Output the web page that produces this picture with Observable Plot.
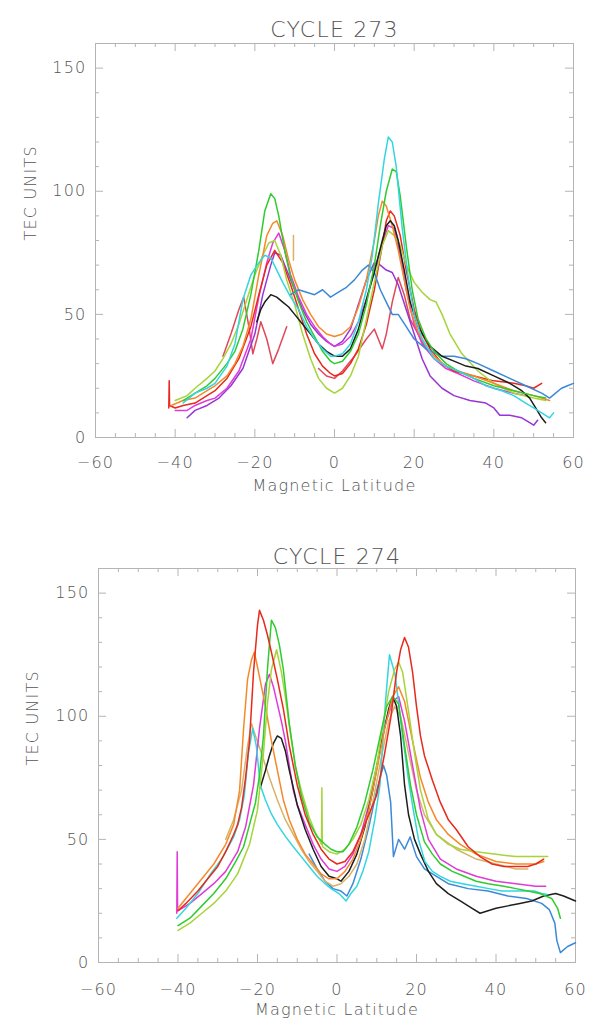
<!DOCTYPE html>
<html><head><meta charset="utf-8">
<script src="https://cdn.jsdelivr.net/npm/d3@7"></script>
<script src="https://cdn.jsdelivr.net/npm/@observablehq/plot@0.6"></script>
<style>
body{margin:0;background:#fff;}
#chart{width:590px;height:1026px;}
#chart svg{display:block;}
#chart text{letter-spacing:1.2px;}
</style></head><body><div id="chart"></div>
<script>
// ---------- axis ticks ----------
const xTicks = [-60, -40, -20, 0, 20, 40, 60];
const xMinor = [-55, -50, -45, -35, -30, -25, -15, -10, -5, 5, 10, 15, 25, 30, 35, 45, 50, 55];
const yTicks = [0, 50, 100, 150];
const yMinor = [10, 20, 30, 40, 60, 70, 80, 90, 110, 120, 130, 140];

// ---------- CYCLE 273 : [magnetic latitude, TEC] ----------
const c273_cyan = [[-38,14],[-35,18],[-32,20],[-30,22],[-27,29],[-25,38],[-23,56],[-21,66],[-19,71],[-17.5,74],[-16,73],[-14.5,68],[-13,63],[-11,57],[-9,52],[-7,45],[-5,40],[-3,36],[-1,33],[0,33],[2,34],[4,38],[6,47],[8,60],[9.5,74],[11,95],[12.5,113],[13.5,122],[14.5,120],[15.5,110],[17,85],[18.5,65],[20,50],[22,40],[25,32],[28,29],[31,27],[35,24],[38,21],[42,19],[45,17],[48,14],[50,12],[52,10],[54,8],[55,10]];
const c273_green = [[-38,15],[-35,18],[-32,21],[-30,24],[-27,30],[-25,35],[-23,44],[-21,58],[-19,76],[-17.5,92],[-16,99],[-15,97],[-14,90],[-12.5,76],[-11,65],[-9,55],[-7,47],[-5,41],[-3,35],[-1,31],[0,30],[2,31],[4,35],[6,42],[8,54],[10,70],[11.5,86],[13,100],[14.5,109],[15.5,108],[16.5,98],[18,78],[19.5,60],[21,48],[23,40],[25,35],[28,30],[31,27],[35,24],[40,21],[45,19],[50,17],[53,16]];
const c273_yellowgreen = [[-40,15],[-37,17],[-35,20],[-32,24],[-30,27],[-28,32],[-26,38],[-24,46],[-22,56],[-20,66],[-18,74],[-16.5,79],[-15,80],[-13.5,74],[-12,64],[-10,54],[-8,42],[-6,32],[-4,24],[-2,20],[0,18],[2,20],[4,25],[6,33],[8,48],[10,63],[12,78],[13.5,84],[15,82],[16.5,78],[18,70],[20,63],[22,59],[24,56],[25.5,55],[27,50],[29,42],[32,34],[36,27],[40,22],[45,18],[50,16],[53,15]];
const c273_tan = [[-10.3,72],[-10.3,82]];
const c273_orange = [[-41,13],[-38,15],[-35,16],[-32,19],[-30,21],[-27,25],[-25,30],[-23,37],[-21,48],[-19,66],[-17,82],[-15.5,87],[-14.5,88],[-13,82],[-11.5,72],[-10,64],[-8,56],[-6,50],[-4,45],[-2,42],[0,41],[2,42],[4,45],[6,53],[8,64],[10,80],[11,90],[12,96],[13,94],[14.5,86],[16,76],[17.5,64],[19,52],[21,43],[23,37],[25,33],[28,29],[31,27],[35,25],[40,22],[45,19],[50,17],[54,15]];
const c273_red = [[-41.6,12],[-41.5,23],[-41.4,13],[-40,12],[-38,13],[-35,14],[-32,17],[-30,19],[-27,24],[-24,32],[-21,45],[-19,58],[-17,70],[-15,76],[-13,71],[-11,62],[-9,52],[-7,42],[-5,34],[-3,29],[-1,26],[0,25],[2,26],[4,30],[6,36],[8,46],[10,60],[12,78],[13,88],[14,92],[15,90],[16.5,82],[18,68],[20,52],[22,42],[24,36],[27,30],[30,27],[35,25],[40,23],[45,22],[48,21],[50,20],[52,22]];
const c273_magenta = [[-40,11],[-37,11],[-35,13],[-32,15],[-30,16],[-27,20],[-24,27],[-21,40],[-19,57],[-17,71],[-15.5,79],[-14,83],[-12.5,76],[-11,66],[-9,57],[-7,50],[-5,45],[-3,41],[-1,38],[0,37],[2,38],[4,41],[6,47],[8,56],[10,68],[12,79],[13.5,86],[15,85],[16.5,74],[18,60],[20,46],[22,38],[25,32],[28,28],[31,26],[35,23],[40,20],[45,18],[48,17]];
const c273_purple = [[-37,8],[-35,11],[-32,13],[-29,16],[-26,21],[-23,28],[-20,42],[-18,58],[-16,70],[-15,75],[-13.5,74],[-12,68],[-10,60],[-8,52],[-6,46],[-4,42],[-2,39],[0,37],[2,39],[4,44],[6,54],[8,64],[10,71],[11.5,70],[13,68],[14.5,67],[16,62],[18,52],[20,42],[22,32],[24,25],[27,20],[30,17],[34,15],[38,14],[40,12],[41.5,9],[44,9],[47,8],[49,6],[50,5],[51,7]];
const c273_black = [[-19.5,47],[-18.5,52],[-17.5,55],[-16,58],[-14.5,57],[-13,55],[-11.5,53],[-10,50],[-8,46],[-6,42],[-4,38],[-2,35],[0,33],[2,33],[4,36],[6,44],[8,56],[10,67],[12,80],[13,86],[14,88],[15,86],[16,80],[17.5,68],[19,55],[21,45],[24,37],[27,33],[30,31],[33,29],[36,28],[40,25],[44,22],[47,19],[49,16],[50.5,12],[52,8],[53,6]];
const c273_blue = [[-11,58],[-9,60],[-7,59],[-5,58],[-3,60],[-1,57],[1,59],[3,61],[5,64],[7,68],[8.5,70],[10,67],[11.5,60],[13,55],[14.5,50],[16,50],[18,45],[20,40],[23,36],[27,33],[30,33],[33,32],[36,30],[40,27],[44,24],[48,21],[52,18],[54,16],[55.5,18],[57,20],[58.5,21],[60,22]];
const c273_crimson = [[-28,33],[-26,42],[-24,52],[-22.8,57],[-21.5,45],[-20.5,34],[-19.5,40],[-18.5,47],[-17,40],[-15.5,30],[-14,36],[-12,45],[-8,NaN],[-4,28],[-2,25],[0,24],[2,27],[5,33],[8,40],[10,44],[11,40],[12,36],[13,42],[14.5,55],[16,65],[17.5,58],[19,48],[21,42],[23,36]];

// ---------- CYCLE 274 ----------
const c274_red = [[-40,21],[-38,24],[-35,29],[-32,35],[-30,39],[-28,45],[-26,52],[-25,56],[-24,63],[-23,75],[-22,90],[-21,118],[-20,137],[-19.5,143],[-18.5,139],[-17.5,133],[-16.5,126],[-15,115],[-13.5,103],[-12,88],[-10,72],[-8,60],[-6,52],[-4,46],[-2,42],[0,40],[2,41],[4,45],[6,52],[8,60],[10,68],[12,85],[13.5,99],[15,118],[16,127],[17,132],[18,128],[19,118],[20,104],[21,92],[22,84],[24,74],[26,65],[28,58],[30,54],[33,47],[36,43],[39,40],[42,39],[45,39],[48,39],[50,40],[52,42]];
const c274_orange = [[-40,22],[-37,28],[-34,34],[-31,40],[-28,48],[-26,56],[-24.5,70],[-23.5,95],[-22.5,115],[-21.5,123],[-20.8,126],[-20,120],[-19,112],[-18,104],[-16.5,90],[-15,78],[-13.5,66],[-12,58],[-10,50],[-8,44],[-6,40],[-4,36],[-2,34],[0,34],[2,37],[4,42],[6,50],[8,62],[10,78],[12,95],[14,108],[15.5,112],[17,106],[19,90],[21,75],[23,65],[25,58],[28,52],[31,48],[35,44],[40,41],[45,40],[50,40],[52,41]];
const c274_tan = [[-28,50],[-26,58],[-24,70],[-22.5,88],[-21.5,97],[-20.5,92],[-19,85],[-17,75],[-15,66],[-13,58],[-11,52],[-9,46],[-7,41],[-5,37],[-3,33],[-1,31],[1,32],[3,35],[5,40],[7,50],[9,65],[11,82],[13,98],[14.5,104],[16,100],[18,85],[20,70],[22,60],[25,52],[30,46],[35,42],[40,40],[45,38],[48,38]];
const c274_green = [[-40,15],[-37,18],[-34,23],[-31,28],[-28,34],[-25.5,41],[-23.5,47],[-22,56],[-20.5,65],[-19.5,76],[-18.5,92],[-17.5,119],[-16.5,139],[-15.5,136],[-14.5,129],[-13.5,119],[-12,97],[-10.5,80],[-9,68],[-7,57],[-5,51],[-3,48],[-1.5,46],[0,45],[1.5,45],[3,48],[5,55],[7,65],[9,78],[11,93],[12.5,104],[14,108],[15.5,105],[17,88],[18.5,72],[20,60],[22,49],[24,44],[26,40],[29,37],[32,35],[35,33],[38,32],[42,31],[45,30],[48,29],[51,28],[54,26],[55.5,22],[56.2,18]];
const c274_yellowgreen = [[-40,13],[-37,16],[-34,20],[-31,24],[-28,29],[-25,36],[-22,48],[-20,62],[-18.5,85],[-17.5,105],[-16.5,119],[-15.2,127],[-14,118],[-13,108],[-12,96],[-10.5,80],[-9,70],[-7,59],[-5.5,53],[-4.5,50],[-3.9,48],[-3.8,71],[-3.7,48],[-3.6,47],[-2,45],[0,44],[2,46],[4,50],[6,56],[8,66],[10,80],[11.5,96],[13,110],[14.5,119],[15.5,122],[16.5,118],[18,102],[19.5,85],[21,70],[23,58],[25,52],[28,48],[31,46],[35,45],[40,44],[45,43],[50,43],[53,43]];
const c274_magenta = [[-40.3,20],[-40.2,45],[-40.1,21],[-39,22],[-37,24],[-34,28],[-31,32],[-28,37],[-25,45],[-23,55],[-21,72],[-19.5,95],[-18,113],[-17,117],[-16,112],[-15,105],[-14,98],[-13,90],[-12,80],[-11,70],[-10,64],[-8,56],[-6,48],[-4,42],[-2,38],[0,37],[2,39],[4,44],[6,52],[8,64],[10,80],[12,96],[14,106],[15.5,108],[17,98],[19,80],[21,62],[23,50],[26,42],[30,38],[35,35],[40,33],[45,32],[50,31],[52.5,31]];
const c274_black = [[-19.3,71],[-18,78],[-17,84],[-16,89],[-15,92],[-14,91],[-13,86],[-12,78],[-11,71],[-10,64],[-8,54],[-6,46],[-4,39],[-2,35],[0,34],[1,33],[3,37],[5,44],[7,55],[9,70],[11,88],[13,103],[14,108],[15,104],[16,92],[17,72],[18,60],[19.5,50],[21,44],[23,37],[25,32],[28,28],[31,25],[34,22],[36,20],[38,21],[40,22],[43,23],[46,24],[49,25],[52,27],[55,28],[57,27],[60,25]];
const c274_cyan = [[-40.3,18],[-38,22],[-35,28],[-31.8,36],[-29,42],[-26,51],[-24.5,58],[-23.3,68],[-22.3,85],[-21.2,95],[-20.3,88],[-19.3,72],[-18,66],[-16.7,61],[-15,56],[-12.9,51],[-11,47],[-9,43],[-7,39],[-5,35],[-3,32],[-1.5,30],[0.5,28],[2.3,25],[3.5,28],[5,31],[6.5,37],[8,45],[9.5,58],[10.8,72],[12.2,106],[13.2,125],[14.6,117],[16.5,92],[18,74],[19.3,61],[20.5,50],[22.1,41],[24,37],[26,35],[28.5,33],[31.6,32],[35,31],[38.2,30],[41.5,29],[44.8,29],[47,29],[49.6,29],[51.5,28],[52.9,27.6]];
const c274_blue = [[-7,44],[-5,38],[-3,33],[-1,30],[1,29],[2.5,27],[4,32],[6,42],[8,55],[10,70],[11.7,80],[12.5,76],[13.5,65],[14.2,43],[15.5,50],[17,46],[18.4,51],[20,43],[22,38],[24,36],[28,32],[33,30],[38,29],[43,27],[47.7,26],[51.5,24],[53.4,21.5],[54.8,16],[55.3,9],[56.2,4],[58,6.5],[60,8]];

const series273 = [
  ["crimson", c273_crimson], ["purple", c273_purple], ["magenta", c273_magenta], ["red", c273_red],
  ["yellowgreen", c273_yellowgreen], ["tan", c273_tan], ["orange", c273_orange], ["blue", c273_blue],
  ["black", c273_black], ["green", c273_green], ["cyan", c273_cyan]
];
const series274 = [
  ["blue", c274_blue], ["tan", c274_tan], ["magenta", c274_magenta], ["black", c274_black],
  ["cyan", c274_cyan], ["orange", c274_orange], ["yellowgreen", c274_yellowgreen], ["green", c274_green], ["red", c274_red]
];

const colorNames = ["cyan", "green", "yellowgreen", "tan", "orange", "red", "magenta", "purple", "black", "blue", "crimson"];
const colorValues = ["#33d6e0", "#2ecc2e", "#a6d43a", "#d9b26a", "#f5892a", "#e8291c", "#e03ad8", "#9a35d4", "#1e1e1e", "#3a8ad8", "#e0485a"];

const FONT = "'DejaVu Sans', sans-serif";
const TXT = "#555";
const AX = "#b4b4b4";

function panel(title, series, m) {
  const W = 590, H = 513;
  const fw = W - m.left - m.right, fh = H - m.top - m.bottom;
  const rows = series.flatMap(([name, pts]) => pts.map(([lat, tec]) => ({name, lat, tec})));
  return Plot.plot({
    width: W, height: H,
    marginLeft: m.left, marginRight: m.right, marginTop: m.top, marginBottom: m.bottom,
    x: {domain: [-60, 60]},
    y: {domain: [0, 160]},
    color: {domain: colorNames, range: colorValues},
    style: {fontFamily: FONT, fontSize: "16px", fontWeight: 200, color: TXT, background: "white", overflow: "visible"},
    marks: [
      Plot.frame({stroke: AX, strokeWidth: 1}),
      Plot.tickX(xTicks, {x: d => d, stroke: AX, insetTop: fh - 8}),
      Plot.tickX(xTicks, {x: d => d, stroke: AX, insetBottom: fh - 8}),
      Plot.tickX(xMinor, {x: d => d, stroke: AX, insetTop: fh - 4}),
      Plot.tickX(xMinor, {x: d => d, stroke: AX, insetBottom: fh - 4}),
      Plot.tickY(yTicks, {y: d => d, stroke: AX, insetRight: fw - 8}),
      Plot.tickY(yTicks, {y: d => d, stroke: AX, insetLeft: fw - 8}),
      Plot.tickY(yMinor, {y: d => d, stroke: AX, insetRight: fw - 4}),
      Plot.tickY(yMinor, {y: d => d, stroke: AX, insetLeft: fw - 4}),
      Plot.axisX({ticks: xTicks, tickSize: 0, tickPadding: m.xpad, label: null, fill: TXT,
        tickFormat: d => (d < 0 ? "\u2212" + (-d) : String(d))}),
      Plot.axisY({ticks: yTicks, tickSize: 0, tickPadding: 9, label: null, fill: TXT}),
      Plot.line(rows, {x: "lat", y: "tec", z: "name", stroke: "name", strokeWidth: 1.5, strokeLinejoin: "round"}),
      Plot.text([title], {text: d => d, frameAnchor: "top", dy: m.tdy, fontSize: 22, fill: TXT}),
      Plot.text(["TEC UNITS"], {text: d => d, frameAnchor: "left", dx: m.ydx, rotate: -90, fontSize: 16, fill: TXT}),
      Plot.text(["Magnetic Latitude"], {text: d => d, frameAnchor: "bottom", dy: m.xdy, fontSize: 16, fill: TXT})
    ]
  });
}

const root = document.getElementById("chart");
root.append(panel("CYCLE 273", series273, {left: 95, right: 17, top: 43, bottom: 76, xpad: 19, tdy: -22, ydx: -65, xdy: 53}));
root.append(panel("CYCLE 274", series274, {left: 98, right: 15, top: 55, bottom: 64, xpad: 21, tdy: -20, ydx: -66, xdy: 52}));
</script>
</body></html>
